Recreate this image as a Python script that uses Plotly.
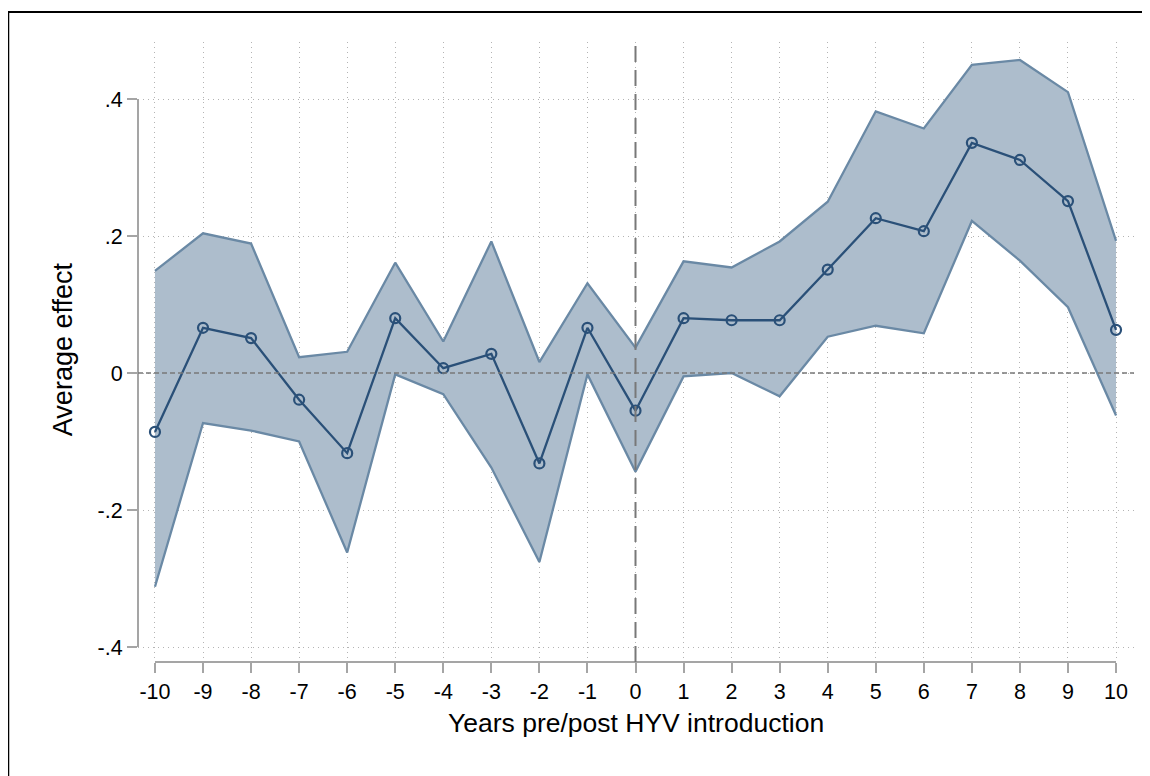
import plotly.graph_objects as go

years = list(range(-10, 11))
coef = [-0.086, 0.066, 0.051, -0.039, -0.117, 0.080, 0.007, 0.028, -0.132, 0.066, -0.055,
        0.080, 0.077, 0.077, 0.151, 0.226, 0.207, 0.336, 0.311, 0.251, 0.063]
ci_upper = [0.149, 0.204, 0.189, 0.023, 0.031, 0.161, 0.046, 0.192, 0.016, 0.131, 0.037,
            0.163, 0.154, 0.192, 0.250, 0.382, 0.357, 0.450, 0.457, 0.410, 0.193]
ci_lower = [-0.312, -0.073, -0.084, -0.100, -0.262, -0.002, -0.031, -0.138, -0.276, -0.002, -0.144,
            -0.005, 0.000, -0.034, 0.053, 0.069, 0.058, 0.222, 0.164, 0.096, -0.062]
ytick_vals = [-0.4, -0.2, 0, 0.2, 0.4]
ytick_text = ["-.4", "-.2", "0", ".2", ".4"]
x_title = "Years pre/post HYV introduction"
y_title = "Average effect"

FILL = "rgb(173,189,204)"
EDGE = "rgb(106,137,165)"
MAIN = "rgb(42,80,120)"
GRID = "rgb(180,180,180)"
AXIS = "rgb(165,165,165)"
REF = "rgb(120,120,120)"
FONT = "Liberation Sans, Arial, sans-serif"

W, H = 1150, 776
OFF = 8  # page body margin: screen px = figure px + 8


def fx(p):
    return p - OFF


def fy(p):
    return p - OFF


# target screen pixels
X_LEFT, X_RIGHT = 138, 1136      # plot area left (y-axis line) / right edge
Y_TOP, Y_BOT = 42, 662           # plot area top / bottom (x-axis line)
XM10, XP10 = 155, 1118           # x=-10 / x=10
YP4, YM4 = 99, 647               # y=.4 / y=-.4

L, R, T, B = fx(X_LEFT), W - fx(X_RIGHT), fy(Y_TOP), H - fy(Y_BOT)
pw, ph = W - L - R, H - T - B

xppu = (XP10 - XM10) / 20.0
yppu = (YM4 - YP4) / 0.8
xr = [-10 - (XM10 - X_LEFT) / xppu, 10 + (X_RIGHT - XP10) / xppu]
yr = [-0.4 - (Y_BOT - YM4) / yppu, 0.4 + (YP4 - Y_TOP) / yppu]


def paper_x(p):
    return (fx(p) - L) / pw


def paper_y(p):
    return (fy(Y_BOT) - fy(p)) / ph


fig = go.Figure()
fig.add_trace(go.Scatter(x=years, y=ci_lower, mode="lines",
                         line=dict(color=EDGE, width=2.3), hoverinfo="skip", showlegend=False))
fig.add_trace(go.Scatter(x=years, y=ci_upper, mode="lines", fill="tonexty", fillcolor=FILL,
                         line=dict(color=EDGE, width=2.3), hoverinfo="skip", showlegend=False))
fig.add_trace(go.Scatter(x=years, y=coef, mode="lines+markers",
                         line=dict(color=MAIN, width=2.3),
                         marker=dict(symbol="circle-open", size=10, color=MAIN, line=dict(width=2.2, color=MAIN)),
                         showlegend=False))
# invisible trace to anchor the offset axes
fig.add_trace(go.Scatter(x=years, y=coef, mode="lines", opacity=0, xaxis="x2", yaxis="y2",
                         hoverinfo="skip", showlegend=False))

fig.add_shape(type="line", xref="x", yref="y", x0=xr[0], x1=xr[1], y0=0, y1=0,
              line=dict(color=REF, width=1.7, dash="5px,3px"))
fig.add_shape(type="line", xref="x", yref="y", x0=0, x1=0, y0=yr[0], y1=yr[1],
              line=dict(color=REF, width=2, dash="16px,8px"))
# outer frame
fig.add_shape(type="rect", xref="paper", yref="paper",
              x0=paper_x(8), x1=1.5, y0=-0.5, y1=paper_y(12),
              line=dict(color="black", width=2), fillcolor="rgba(0,0,0,0)", layer="above")

fig.add_annotation(text=x_title, xref="paper", yref="paper",
                   x=paper_x(637), y=paper_y(723), xanchor="center", yanchor="middle",
                   showarrow=False, font=dict(family=FONT, size=26.5, color="black"))
fig.add_annotation(text=y_title, xref="paper", yref="paper",
                   x=paper_x(63), y=paper_y(349), xanchor="center", yanchor="middle",
                   textangle=-90, showarrow=False, font=dict(family=FONT, size=27, color="black"))

fig.update_layout(
    width=W, height=H, margin=dict(l=L, r=R, t=T, b=B),
    paper_bgcolor="white", plot_bgcolor="rgba(0,0,0,0)",
    font=dict(family=FONT, color="black"),
    xaxis=dict(range=xr, tickvals=years, showticklabels=False, ticks="",
               showgrid=True, gridcolor=GRID, griddash="1px,4px", gridwidth=1,
               zeroline=False, showline=False, fixedrange=True),
    yaxis=dict(range=yr, tickvals=ytick_vals, showticklabels=False, ticks="",
               showgrid=True, gridcolor=GRID, griddash="1px,4px", gridwidth=1,
               zeroline=False, showline=False, fixedrange=True),
    xaxis2=dict(domain=[paper_x(XM10), paper_x(XP10)], range=[-10, 10], anchor="free", position=0,
                side="bottom", tickvals=years, ticktext=[str(v) for v in years],
                showline=True, linecolor=AXIS, linewidth=2, ticks="outside", ticklen=10,
                tickcolor=AXIS, tickwidth=2, showgrid=False, zeroline=False, fixedrange=True,
                tickfont=dict(family=FONT, size=21.5, color="black")),
    yaxis2=dict(domain=[paper_y(YM4), paper_y(YP4)], range=[-0.4, 0.4], anchor="free",
                position=0, side="left", tickvals=ytick_vals, ticktext=ytick_text, tickangle=0,
                showline=True, linecolor=AXIS, linewidth=2, ticks="outside", ticklen=10,
                tickcolor=AXIS, tickwidth=2, showgrid=False, zeroline=False, fixedrange=True,
                tickfont=dict(family=FONT, size=21.5, color="black")),
)

fig.write_html("out.html")
